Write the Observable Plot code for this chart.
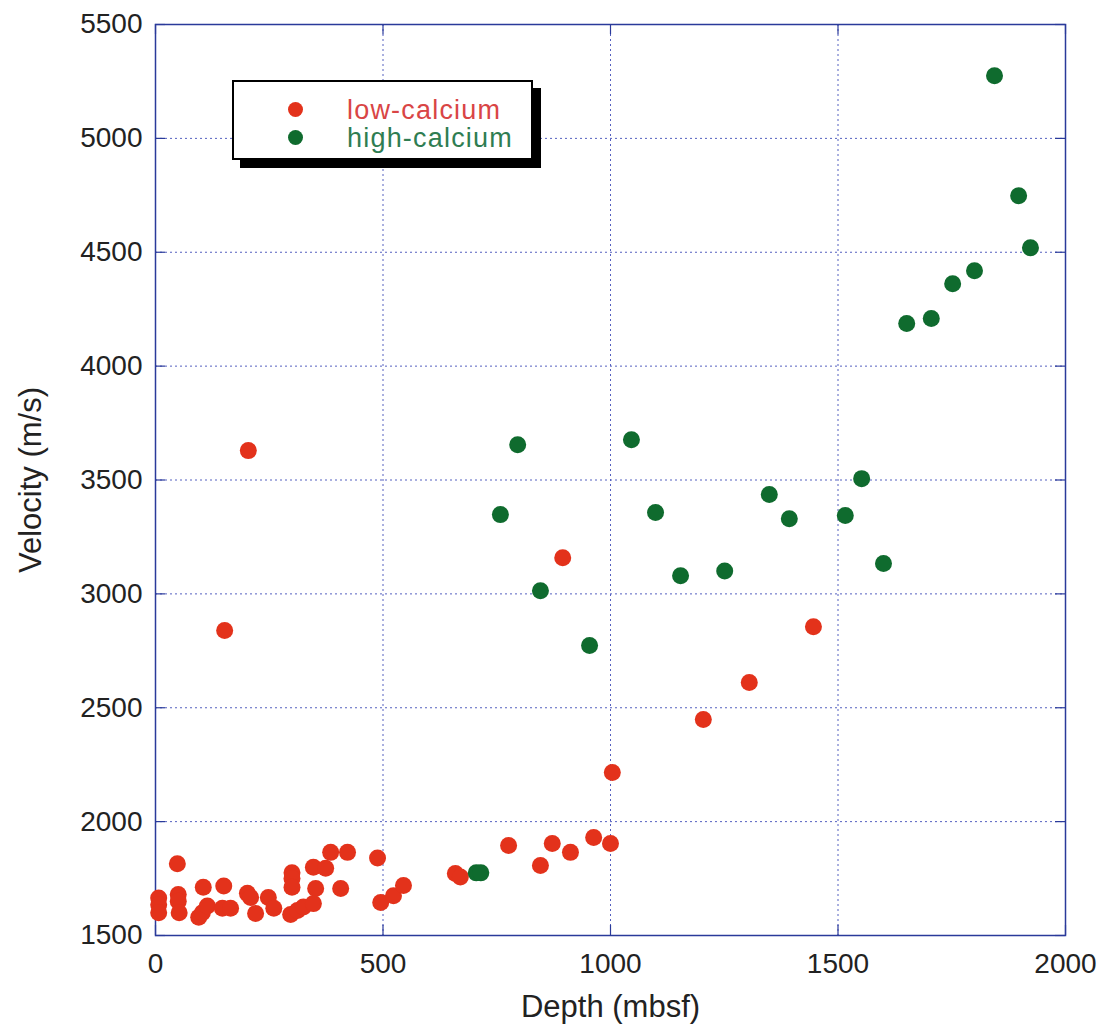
<!DOCTYPE html>
<html>
<head>
<meta charset="utf-8">
<script src="https://cdn.jsdelivr.net/npm/d3@7"></script>
<script src="https://cdn.jsdelivr.net/npm/@observablehq/plot@0.6"></script>
<style>
  html, body { margin: 0; padding: 0; background: #fff; }
  #wrap { position: relative; width: 1111px; height: 1036px; font-family: "Liberation Sans", Arial, Helvetica, sans-serif; }
  #legend { position: absolute; left: 232px; top: 80px; width: 297px; height: 76px; border: 2px solid #000; background: #fff; box-shadow: 8px 8px 0 #000; }
  .lrow { position: absolute; left: 0; height: 28px; font-size: 27px; letter-spacing: 1.2px; }
  .ldot { position: absolute; left: 54px; width: 15px; height: 15px; border-radius: 50%; }
  .ltxt { position: absolute; left: 113px; white-space: nowrap; line-height: 28px; }
</style>
</head>
<body>
<div id="wrap">
  <div id="chart"></div>
  <div id="legend"></div>
</div>
<script>
// Low-calcium samples
const lowDepth = [7, 7, 7, 48, 50, 50, 52, 95, 103, 114, 105, 150, 147, 165, 202, 209, 220, 248, 260,
  300, 300, 300, 297, 312, 325, 347, 352, 347, 374, 385, 422, 407, 488, 495, 523, 545, 659, 670,
  776, 872, 912, 963, 1000, 846, 1004, 204, 152, 895, 1204, 1305, 1446];
const lowVelocity = [1665, 1635, 1600, 1815, 1680, 1650, 1600, 1580, 1600, 1630, 1712, 1717, 1620, 1620, 1685, 1667, 1597, 1667, 1620,
  1775, 1750, 1712, 1592, 1610, 1625, 1800, 1706, 1640, 1795, 1865, 1865, 1706, 1840, 1645, 1675, 1720, 1772, 1757,
  1895, 1904, 1865, 1930, 1904, 1807, 2216, 3629, 2839, 3159, 2448, 2611, 2856];
// High-calcium samples
const highDepth = [705, 715, 758, 796, 846, 954, 1046, 1099, 1154, 1251, 1349, 1393, 1516, 1552, 1600,
  1651, 1705, 1752, 1800, 1844, 1897, 1923];
const highVelocity = [1775, 1775, 3348, 3655, 3014, 2773, 3677, 3357, 3080, 3100, 3436, 3330, 3344, 3506, 3133,
  4187, 4209, 4362, 4419, 5275, 4748, 4520];

const seriesNames = ["low-calcium", "high-calcium"];
const seriesColors = ["#e3321b", "#0f6b2e"];
const legendTextColors = ["#d94545", "#2f7d52"];
const xTicks = [0, 500, 1000, 1500, 2000];
const yTicks = [1500, 2000, 2500, 3000, 3500, 4000, 4500, 5000, 5500];
const xLabel = "Depth (mbsf)";
const yLabel = "Velocity (m/s)";

const low = lowDepth.map((d, i) => ({depth: d, velocity: lowVelocity[i], group: seriesNames[0]}));
const high = highDepth.map((d, i) => ({depth: d, velocity: highVelocity[i], group: seriesNames[1]}));

const gridColor = "#5560c0";
const frameColor = "#2a3a9a";

const chart = Plot.plot({
  width: 1111,
  height: 1036,
  marginLeft: 155,
  marginRight: 46,
  marginTop: 24,
  marginBottom: 101,
  style: {fontFamily: '"Liberation Sans", Arial, Helvetica, sans-serif', fontSize: "28px", color: "#222", background: "#fff"},
  x: {domain: [0, 2000]},
  y: {domain: [1500, 5500]},
  color: {domain: seriesNames, range: seriesColors},
  marks: [
    Plot.ruleX(xTicks.slice(1, -1), {stroke: gridColor, strokeWidth: 1, strokeDasharray: "2,3"}),
    Plot.ruleY(yTicks.slice(1, -1), {stroke: gridColor, strokeWidth: 1, strokeDasharray: "2,3"}),
    // inner tick marks
    Plot.ruleY(yTicks, {x1: 0, x2: 22, stroke: frameColor, strokeWidth: 1.2}),
    Plot.ruleY(yTicks, {x1: 1978, x2: 2000, stroke: frameColor, strokeWidth: 1.2}),
    Plot.ruleX(xTicks, {y1: 1500, y2: 1545, stroke: frameColor, strokeWidth: 1.2}),
    Plot.ruleX(xTicks, {y1: 5455, y2: 5500, stroke: frameColor, strokeWidth: 1.2}),
    Plot.frame({stroke: frameColor, strokeWidth: 1.5}),
    Plot.axisX({ticks: xTicks, tickSize: 0, tickPadding: 18, tickFormat: d => String(d), label: null, fontSize: 28}),
    Plot.axisY({ticks: yTicks, tickSize: 0, tickPadding: 13, tickFormat: d => String(d), label: null, fontSize: 28}),
    Plot.text([xLabel], {text: d => d, frameAnchor: "bottom", textAnchor: "middle", lineAnchor: "middle", dy: 72, fontSize: 31, fill: "#222"}),
    Plot.text([yLabel], {text: d => d, frameAnchor: "left", textAnchor: "middle", lineAnchor: "middle", dx: -124, rotate: -90, fontSize: 31, fill: "#222"}),
    Plot.dot(low, {x: "depth", y: "velocity", fill: "group", r: 8.5}),
    Plot.dot(high, {x: "depth", y: "velocity", fill: "group", r: 8.5})
  ]
});
document.getElementById("chart").appendChild(chart);

const legend = document.getElementById("legend");
seriesNames.forEach((name, i) => {
  const row = document.createElement("div");
  row.className = "lrow";
  row.style.top = (14 + i * 28) + "px";
  row.style.width = "100%";
  const dot = document.createElement("div");
  dot.className = "ldot";
  dot.style.background = seriesColors[i];
  dot.style.top = "6px";
  const txt = document.createElement("div");
  txt.className = "ltxt";
  txt.style.color = legendTextColors[i];
  txt.textContent = name;
  row.appendChild(dot);
  row.appendChild(txt);
  legend.appendChild(row);
});
</script>
</body>
</html>
